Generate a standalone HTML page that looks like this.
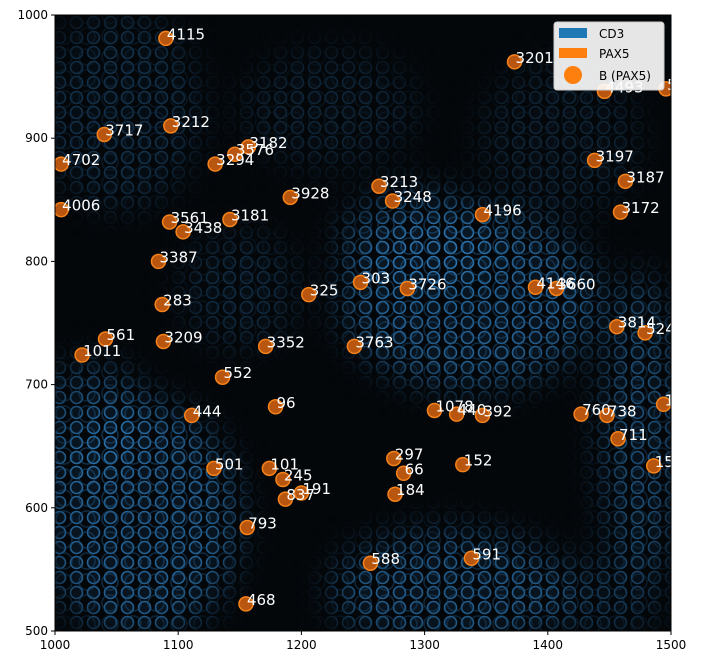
<!DOCTYPE html>
<html><head><meta charset="utf-8"><style>
body{margin:0;background:#fff;width:718px;height:665px;overflow:hidden;font-family:"DejaVu Sans","Liberation Sans",sans-serif}
svg{display:block}
</style></head><body>
<svg id="chart" width="718" height="665" viewBox="0 0 718 665">
<defs>
<clipPath id="plotclip"><rect x="55" y="15" width="616" height="616"/></clipPath>
<pattern id="rings" width="17" height="15" patternUnits="userSpaceOnUse">
<circle cx="8.5" cy="7.5" r="6" fill="#0a1a28" stroke="#2f7fc0" stroke-width="1.6"/>
</pattern>
<pattern id="rings2" width="23" height="21" patternUnits="userSpaceOnUse" x="7" y="5">
<circle cx="11" cy="10" r="8" fill="none" stroke="#2468a0" stroke-width="1.6"/>
</pattern>
<filter id="blur"><feGaussianBlur stdDeviation="18"/></filter>
<mask id="bluemask">
<g filter="url(#blur)" fill="#fff">
<ellipse cx="140" cy="520" rx="100" ry="120" opacity="0.75"/>
<ellipse cx="90" cy="420" rx="60" ry="60" opacity="0.55"/>
<ellipse cx="470" cy="300" rx="130" ry="90" opacity="0.75"/>
<ellipse cx="420" cy="240" rx="80" ry="50" opacity="0.65"/>
<ellipse cx="450" cy="590" rx="120" ry="60" opacity="0.7"/>
<ellipse cx="640" cy="430" rx="40" ry="160" opacity="0.6"/>
<ellipse cx="120" cy="110" rx="80" ry="100" opacity="0.35"/>
<ellipse cx="330" cy="110" rx="90" ry="60" opacity="0.25"/>
<ellipse cx="560" cy="140" rx="80" ry="80" opacity="0.25"/>
<ellipse cx="240" cy="290" rx="60" ry="60" opacity="0.3"/>
<ellipse cx="600" cy="600" rx="60" ry="40" opacity="0.4"/>
</g>
</mask>
</defs>
<rect x="55" y="15" width="616" height="616" fill="#04070a"/>
<g clip-path="url(#plotclip)" mask="url(#bluemask)">
<rect x="55" y="15" width="616" height="616" fill="url(#rings)"/>
<rect x="55" y="15" width="616" height="616" fill="url(#rings2)" opacity="0.5"/>
</g>
<g id="cells" clip-path="url(#plotclip)"></g>
<g id="labels" clip-path="url(#plotclip)"></g>
<rect x="55" y="15" width="616" height="616" fill="none" stroke="#000" stroke-width="1"/>
<g id="axes"></g>
<g>
<rect x="554" y="22" width="110" height="68" rx="3" fill="#fff" fill-opacity="0.9" stroke="#ccc"/>
<rect x="559" y="28" width="28" height="10" fill="#1f77b4"/>
<text x="599" y="38" font-size="12" fill="#000">CD3</text>
<rect x="559" y="48" width="28" height="10" fill="#ff7f0e"/>
<text x="599" y="58" font-size="12" fill="#000">PAX5</text>
<circle cx="573" cy="75" r="9" fill="#ff7f0e"/>
<text x="599" y="80" font-size="12" fill="#000">B (PAX5)</text>
</g>
</svg>
<script>
const cellIds=["4115","3201","4493","5","3717","3212","3182","3576","3294","4702","3197","3187","3213","3248","3928","4006","3172","4196","3561","3181","3438","3387","303","3726","325","4146","3660","283","561","3209","3352","3763","3814","524","1011","552","96","444","1078","440","392","760","738","1","711","152","297","66","501","101","245","191","837","184","15","793","588","591","468"];
const cellX=[1090,1373,1446,1496,1040,1094,1157,1146,1130,1005,1438,1463,1263,1274,1191,1005,1459,1347,1093,1142,1104,1084,1248,1286,1206,1390,1407,1087,1041,1088,1171,1243,1456,1479,1022,1136,1179,1111,1308,1326,1347,1427,1448,1494,1457,1331,1275,1283,1129,1174,1185,1200,1187,1276,1486,1156,1256,1338,1155];
const cellY=[981,962,938,940,903,910,893,887,879,879,882,865,861,849,852,842,840,838,832,834,824,800,783,778,773,779,778,765,737,735,731,731,747,742,724,706,682,675,679,676,675,676,675,684,656,635,640,628,632,632,623,612,607,611,634,584,555,559,522];
const xTicks=[1000,1100,1200,1300,1400,1500];
const yTicks=[500,600,700,800,900,1000];
const X0=55,Y0=15,W=616,H=616,xmin=1000,xmax=1500,ymin=500,ymax=1000;
const sx=v=>X0+(v-xmin)/(xmax-xmin)*W;
const sy=v=>Y0+(ymax-v)/(ymax-ymin)*H;
const NS="http://www.w3.org/2000/svg";
const cg=document.getElementById('cells'),lg=document.getElementById('labels'),ag=document.getElementById('axes');
cellIds.forEach((id,i)=>{
  const c=document.createElementNS(NS,'circle');
  c.setAttribute('cx',sx(cellX[i]));c.setAttribute('cy',sy(cellY[i]));c.setAttribute('r',7);
  c.setAttribute('fill','#b8560f');c.setAttribute('stroke','#f5821a');c.setAttribute('stroke-width','1.5');
  
  
  cg.appendChild(c);
  const t=document.createElementNS(NS,'text');
  t.setAttribute('x',sx(cellX[i])+1);t.setAttribute('y',sy(cellY[i])+1);
  t.setAttribute('font-size','15');t.setAttribute('fill','#fff');
  t.textContent=id;
  
  
  lg.appendChild(t);
});
xTicks.forEach(v=>{
  const l=document.createElementNS(NS,'line');
  l.setAttribute('x1',sx(v));l.setAttribute('x2',sx(v));l.setAttribute('y1',Y0+H);l.setAttribute('y2',Y0+H+4);l.setAttribute('stroke','#000');
  
  
  ag.appendChild(l);
  const t=document.createElementNS(NS,'text');
  t.setAttribute('x',sx(v));t.setAttribute('y',Y0+H+18);t.setAttribute('font-size','12');t.setAttribute('text-anchor','middle');
  t.textContent=v;
  
  
  ag.appendChild(t);
});
yTicks.forEach(v=>{
  const l=document.createElementNS(NS,'line');
  l.setAttribute('x1',X0-4);l.setAttribute('x2',X0);l.setAttribute('y1',sy(v));l.setAttribute('y2',sy(v));l.setAttribute('stroke','#000');
  
  
  ag.appendChild(l);
  const t=document.createElementNS(NS,'text');
  t.setAttribute('x',X0-7);t.setAttribute('y',sy(v)+4);t.setAttribute('font-size','12');t.setAttribute('text-anchor','end');
  t.textContent=v;
  
  
  ag.appendChild(t);
});
</script>
</body></html>
